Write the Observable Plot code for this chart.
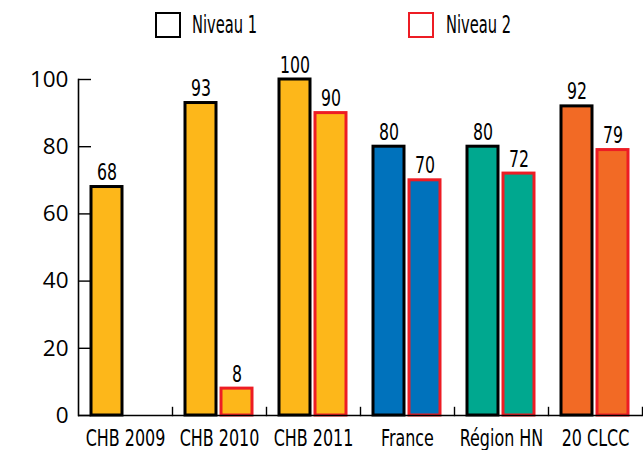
<!DOCTYPE html>
<html><head><meta charset="utf-8">
<script src="https://cdn.jsdelivr.net/npm/d3@7"></script>
<script src="https://cdn.jsdelivr.net/npm/@observablehq/plot@0.6"></script>
<style>
html,body{margin:0;padding:0;background:#fff;overflow:hidden;width:643px;height:450px;}
#wrap{position:relative;width:643px;height:450px;overflow:hidden;}
.lg-box{position:absolute;top:12px;width:26px;height:26px;box-sizing:border-box;border:2px solid #000;}
.lg-text{position:absolute;top:10px;line-height:30px;font-family:"DejaVu Sans Condensed","DejaVu Sans",sans-serif;font-stretch:condensed;font-size:24px;color:#000;transform:scaleX(0.68);transform-origin:0 50%;white-space:nowrap;}
#pct{position:absolute;left:11px;top:403px;font-family:"Open Sans",sans-serif;font-size:21px;line-height:26px;color:#000;}
#chart{position:absolute;left:0;top:50px;}
</style>
</head><body>
<div id="wrap">
  <div class="lg-box" style="left:155px;border-color:#000;"></div>
  <div class="lg-text" style="left:192px;">Niveau 1</div>
  <div class="lg-box" style="left:408px;border-color:#ED1C24;"></div>
  <div class="lg-text" style="left:446px;">Niveau 2</div>
  <div id="pct">%</div>
  <div id="chart"></div>
</div>
<script>
const categories = ["CHB 2009", "CHB 2010", "CHB 2011", "France", "Région HN", "20 CLCC"];
const niveau1 = [68, 93, 100, 80, 80, 92];
const niveau2 = [null, 8, 90, 70, 72, 79];
const seriesNames = ["Niveau 1", "Niveau 2"];
const fillColors = ["#FDB71A", "#FDB71A", "#FDB71A", "#0072BC", "#00A88F", "#F26A25"];
const strokeColors = ["#000000", "#ED1C24"];
const yTicks = [0, 20, 40, 60, 80, 100];

const narrow = "'DejaVu Sans Condensed', 'DejaVu Sans', sans-serif";

const rows = [];
categories.forEach((c, i) => {
  [niveau1, niveau2].forEach((vals, s) => {
    if (vals[i] != null) rows.push({cat: c, series: seriesNames[s], value: vals[i], fill: fillColors[i], stroke: strokeColors[s]});
  });
});

const plot = Plot.plot({
  width: 643,
  height: 400,
  marginTop: 29,
  marginBottom: 35,
  marginLeft: 77,
  marginRight: 0,
  fx: {domain: categories, padding: 0, label: null},
  x: {domain: seriesNames, paddingInner: 0.135, paddingOuter: 0.347, axis: null},
  y: {domain: [0, 100], label: null},
  color: {type: "identity"},
  style: {fontFamily: "'Open Sans', sans-serif", fontSize: "20px", color: "#000", background: "#fff"},
  marks: [
    Plot.barY(rows, {fx: "cat", x: "series", y: "value", fill: "fill", stroke: "stroke", strokeWidth: 3}),
    Plot.ruleY([0], {strokeWidth: 1.6}),
    Plot.frame({anchor: "left", facetAnchor: "left", strokeWidth: 1.6}),
    Plot.frame({anchor: "right", insetTop: 328, strokeWidth: 1.4}),
    Plot.text(rows, {fx: "cat", x: "series", y: "value", text: d => String(d.value), dy: -7, lineAnchor: "bottom", fontSize: 23, fontFamily: narrow, fill: "#000"}),
    Plot.axisY({ticks: yTicks, tickSize: -13, tickPadding: 23, fontSize: 22.5, fontFamily: "'Open Sans', sans-serif", label: null, strokeWidth: 1.4}),
    Plot.axisFx({anchor: "bottom", tickSize: 0, tickPadding: 14, fontSize: 23, fontFamily: narrow, label: null})
  ]
});
document.getElementById("chart").appendChild(plot);

// condense the narrow-font labels (value labels and category labels)
function condense(selector, factor) {
  d3.select(plot).selectAll(selector).each(function() {
    const w = this.getComputedTextLength();
    this.setAttribute("textLength", (w * factor).toFixed(2));
    this.setAttribute("lengthAdjust", "spacingAndGlyphs");
  });
}
condense("g[aria-label='text'] text", 0.76);
condense("g[aria-label='fx-axis tick label'] text", 0.77);
</script>
</body></html>
